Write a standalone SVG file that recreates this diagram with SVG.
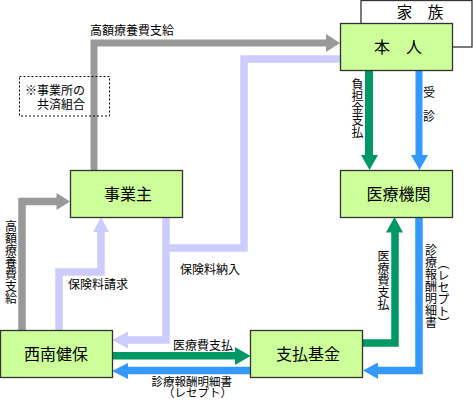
<svg xmlns="http://www.w3.org/2000/svg" width="473" height="400" viewBox="0 0 473 400">
<style>
.node rect{fill:#ccff99;stroke:#333333;stroke-width:1.3}
.nt{font-family:"Noto Sans CJK JP","Noto Sans CJK SC",sans-serif;font-size:16px;fill:#000;text-anchor:middle}
.lb{font-family:"Noto Sans CJK JP","Noto Sans CJK SC",sans-serif;font-size:12px;fill:#000}
.vt{writing-mode:vertical-rl;font-family:"Noto Sans CJK JP","Noto Sans CJK SC",sans-serif;font-size:12px;fill:#000}
.ln{fill:none;stroke-linejoin:miter;stroke-linecap:butt}
.gray{stroke:#999999}.lav{stroke:#ccccff}.grn{stroke:#009966}.blu{stroke:#3399ff}
</style>
<rect width="473" height="400" fill="#ffffff"/>
<g id="connectors">
  <path class="ln gray" stroke-width="7" d="M94,170 V43 H326"/>
  <polygon fill="#999999" points="326,34 340,43 326,52"/>
  <path class="ln gray" stroke-width="7.5" d="M22,330 V201.5 H57"/>
  <polygon fill="#999999" points="56.5,193 70,201.5 56.5,210"/>
  <path class="ln lav" stroke-width="7.5" d="M340,59 H244 V248 H166"/>
  <path class="ln lav" stroke-width="7.5" d="M166,217 V340 H128"/>
  <polygon fill="#ccccff" points="128,331.5 112,340 128,348.5"/>
  <path class="ln lav" stroke-width="7.5" d="M59,330 V272 H101 V232"/>
  <polygon fill="#ccccff" points="93,232 101,217 109,232"/>
  <path class="ln grn" stroke-width="8" d="M369,70 V155.5"/>
  <polygon fill="#009966" points="361,155 369.5,170 378,155"/>
  <path class="ln blu" stroke-width="7" d="M419,70 V155.5"/>
  <polygon fill="#3399ff" points="411,155 419.5,170 428,155"/>
  <path class="ln grn" stroke-width="7.5" d="M362,343 H395 V232"/>
  <polygon fill="#009966" points="386,232.5 394.5,217 403,232.5"/>
  <path class="ln blu" stroke-width="7.5" d="M419,217 V370.5 H377.5"/>
  <polygon fill="#3399ff" points="378,362.5 363,370.5 378,379"/>
  <path class="ln grn" stroke-width="7.5" d="M112,355.8 H235.5"/>
  <polygon fill="#009966" points="235,347 250.5,356 235,365"/>
  <path class="ln blu" stroke-width="7.5" d="M250,370.5 H127.5"/>
  <polygon fill="#3399ff" points="128,363 112,371 128,379"/>
  <text class="lb" x="90" y="35">高額療養費支給</text>
  <text class="vt" x="11" y="220">高額療養費支給</text>
  <text class="lb" x="68" y="289">保険料請求</text>
  <text class="lb" x="180" y="274">保険料納入</text>
  <text class="vt" x="357.5" y="78">負担金支払</text>
  <text class="vt" x="429" y="86">受　診</text>
  <text class="vt" x="383.5" y="250">医療費支払</text>
  <text class="vt" x="431" y="244">診療報酬明細書</text>
  <text class="vt" x="443.5" y="257">（レセプト）</text>
  <text class="lb" x="233" y="350" text-anchor="end">医療費支払</text>
  <text class="lb" x="232" y="385.5" text-anchor="end" style="font-size:11.5px">診療報酬明細書</text>
  <text class="lb" x="232" y="397" text-anchor="end" style="font-size:11.5px">（レセプト）</text>
</g>
<g id="note">
  <rect x="19.5" y="76.5" width="90" height="39.5" fill="none" stroke="#000" stroke-width="1" stroke-dasharray="2,2"/>
  <text class="lb" x="25" y="95">※事業所の</text>
  <text class="lb" x="37" y="109">共済組合</text>
</g>
<g id="kazoku" class="node">
  <rect x="361" y="0.5" width="111" height="46.5" style="fill:#ffffff"/>
  <text class="nt" x="420" y="18" style="font-size:15.5px">家　族</text>
</g>
<g id="honnin" class="node">
  <rect x="340.5" y="23.5" width="112" height="47"/>
  <text class="nt" x="398" y="53">本　人</text>
</g>
<g id="iryokikan" class="node">
  <rect x="340.5" y="170.5" width="112" height="47"/>
  <text class="nt" x="398.5" y="200">医療機関</text>
</g>
<g id="jigyonushi" class="node">
  <rect x="70.5" y="170.5" width="112" height="47"/>
  <text class="nt" x="128" y="200">事業主</text>
</g>
<g id="seinankenpo" class="node">
  <rect x="0.5" y="330.5" width="112" height="47"/>
  <text class="nt" x="56" y="360">西南健保</text>
</g>
<g id="shiharaikikin" class="node">
  <rect x="250.5" y="330.5" width="112" height="47"/>
  <text class="nt" x="308" y="359.5">支払基金</text>
</g>
</svg>
